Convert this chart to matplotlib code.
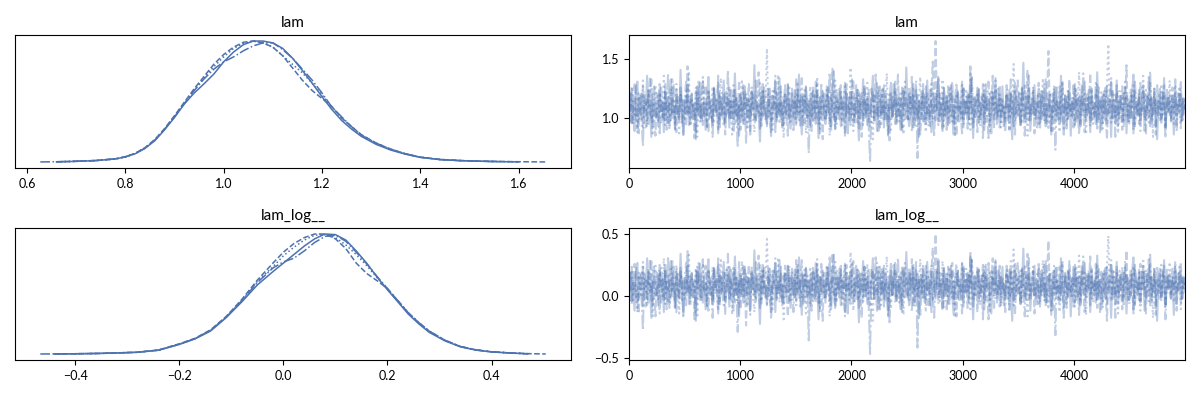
import numpy as np
import matplotlib
matplotlib.use("Agg")
import matplotlib.pyplot as plt

plt.rcParams['font.family'] = ['Lato', 'DejaVu Sans']

nan = np.nan
COLOR = "#4c72b0"
LINESTYLES = ["-", "--", "-.", ":"]

var_names = ["lam", "lam_log__"]

# ---- KDE of lam per chain (density) ----
lam_grid = [0.627, 0.66, 0.70, 0.74, 0.78, 0.80, 0.82, 0.84, 0.86, 0.88, 0.90, 0.92, 0.94,
            0.96, 0.98, 1.00, 1.02, 1.04, 1.06, 1.08, 1.10, 1.12, 1.14, 1.16, 1.18, 1.20,
            1.22, 1.24, 1.26, 1.28, 1.31, 1.34, 1.37, 1.40, 1.44, 1.48, 1.52, 1.56, 1.60, 1.655]
lam_kde_c0 = [nan, 0.002, 0.006, 0.012, 0.026, 0.042, 0.068, 0.112, 0.175, 0.265, 0.365, 0.475, 0.565,
              0.64, 0.72, 0.82, 0.90, 0.96, 0.99, 0.99, 0.975, 0.93, 0.85, 0.75, 0.645, 0.535, 0.43,
              0.34, 0.27, 0.21, 0.145, 0.098, 0.064, 0.038, 0.02, 0.012, 0.007, 0.004, 0.001, nan]
lam_kde_c1 = [nan, 0.002, 0.006, 0.013, 0.027, 0.044, 0.072, 0.118, 0.185, 0.275, 0.38, 0.49, 0.60,
              0.70, 0.80, 0.88, 0.94, 0.98, 0.99, 0.975, 0.94, 0.87, 0.77, 0.67, 0.585, 0.52, 0.455,
              0.36, 0.29, 0.225, 0.155, 0.105, 0.067, 0.04, 0.022, 0.013, 0.008, 0.005, 0.003, 0.001]
lam_kde_c2 = [0.001, 0.003, 0.007, 0.013, 0.026, 0.043, 0.07, 0.115, 0.18, 0.27, 0.37, 0.48, 0.585,
              0.68, 0.76, 0.82, 0.86, 0.91, 0.95, 0.975, 0.975, 0.92, 0.85, 0.76, 0.67, 0.565, 0.45,
              0.37, 0.29, 0.22, 0.155, 0.105, 0.068, 0.04, 0.021, 0.012, 0.007, 0.003, nan, nan]
lam_kde_c3 = [nan, 0.002, 0.006, 0.012, 0.025, 0.042, 0.069, 0.114, 0.18, 0.27, 0.375, 0.485, 0.59,
              0.69, 0.78, 0.86, 0.93, 0.97, 0.99, 0.975, 0.94, 0.87, 0.80, 0.73, 0.645, 0.55, 0.45,
              0.36, 0.29, 0.22, 0.155, 0.105, 0.068, 0.04, 0.021, 0.012, 0.007, 0.004, 0.002, nan]

# ---- KDE of lam_log__ per chain ----
log_grid = [-0.467, -0.44, -0.40, -0.36, -0.32, -0.28, -0.24, -0.20, -0.17, -0.14, -0.11, -0.08,
            -0.05, -0.02, 0.00, 0.02, 0.04, 0.06, 0.08, 0.10, 0.12, 0.14, 0.16, 0.18, 0.20, 0.22,
            0.24, 0.26, 0.28, 0.31, 0.34, 0.37, 0.40, 0.44, 0.47, 0.504]
log_kde_c0 = [nan, 0.001, 0.003, 0.005, 0.009, 0.015, 0.032, 0.08, 0.125, 0.19, 0.30, 0.43, 0.57, 0.68,
              0.75, 0.82, 0.89, 0.95, 0.99, 0.985, 0.94, 0.85, 0.75, 0.635, 0.53, 0.43, 0.33, 0.25,
              0.18, 0.11, 0.06, 0.033, 0.018, 0.008, 0.003, nan]
log_kde_c1 = [nan, 0.001, 0.003, 0.005, 0.01, 0.016, 0.034, 0.085, 0.13, 0.20, 0.31, 0.45, 0.61, 0.75,
              0.84, 0.91, 0.96, 0.99, 0.99, 0.95, 0.87, 0.75, 0.665, 0.605, 0.54, 0.44, 0.34, 0.26,
              0.19, 0.115, 0.063, 0.035, 0.019, 0.009, 0.004, 0.001]
log_kde_c2 = [0.001, 0.002, 0.003, 0.006, 0.01, 0.016, 0.033, 0.082, 0.128, 0.195, 0.305, 0.44, 0.59, 0.71,
              0.76, 0.79, 0.85, 0.92, 0.97, 0.98, 0.93, 0.84, 0.745, 0.64, 0.54, 0.44, 0.34, 0.26,
              0.19, 0.115, 0.063, 0.035, 0.019, 0.008, 0.002, nan]
log_kde_c3 = [nan, 0.001, 0.003, 0.005, 0.009, 0.015, 0.032, 0.08, 0.126, 0.195, 0.305, 0.44, 0.60, 0.72,
              0.81, 0.88, 0.94, 0.98, 0.985, 0.96, 0.90, 0.82, 0.73, 0.63, 0.535, 0.44, 0.34, 0.26,
              0.19, 0.115, 0.063, 0.035, 0.019, 0.009, 0.003, nan]

# ---- Trace of lam per chain (thinned) ----
lam_trace_c0 = [
    1.12, 0.97, 1.25, 1.03, 0.89, 1.18, 1.31, 0.99, 1.08, 1.21,
    0.92, 1.15, 1.04, 1.36, 0.95, 1.11, 0.84, 1.19, 1.27, 1.01,
    1.09, 0.93, 1.23, 1.06, 1.14, 0.88, 1.29, 1.02, 0.96, 1.17,
    1.33, 1.00, 1.10, 0.91, 1.24, 1.05, 0.98, 1.41, 1.07, 0.86,
    1.16, 1.03, 1.28, 0.94, 1.12, 1.20, 0.99, 1.08, 0.82, 1.22,
    1.04, 1.30, 0.97, 1.13, 1.06, 0.90, 1.19, 1.35, 1.01, 1.10,
    0.94, 1.26, 1.08, 1.15, 0.87, 1.21, 1.02, 1.11, 1.32, 0.96,
    1.05, 1.18, 0.92, 1.24, 1.09, 0.99, 1.38, 1.03, 1.14, 0.85,
    1.20, 1.07, 0.95, 1.27, 1.12, 1.00, 1.16, 0.89, 1.23, 1.06,
    1.45, 0.98, 1.11, 1.04, 0.80, 1.19, 1.29, 1.02, 1.09, 0.93,
    1.17, 1.25, 0.97, 1.08, 1.13, 0.88, 1.22, 1.05, 1.34, 0.99,
    1.10, 0.94, 1.20, 1.03, 1.28, 1.07, 0.91, 1.15, 1.01, 1.24,
    0.96, 1.12, 1.37, 1.05, 0.86, 1.18, 1.09, 1.26, 1.00, 1.14,
    0.92, 1.21, 1.06, 0.98, 1.31, 1.11, 0.83, 1.17, 1.04, 1.23,
    1.08, 0.95, 1.27, 1.13, 1.02, 0.90, 1.19, 1.40, 0.97, 1.10,
    1.05, 1.25, 0.93, 1.16, 1.07, 1.30, 0.99, 0.87, 1.14, 1.22,
    1.03, 1.11, 0.96, 1.28, 1.09, 0.81, 1.20, 1.06, 1.33, 1.00,
    1.15, 0.94, 1.24, 1.04, 1.12, 1.36, 0.98, 1.08, 0.89, 1.19,
    1.27, 1.02, 1.13, 0.92, 1.21, 1.07, 0.85, 1.16, 1.30, 1.01,
    1.09, 1.23, 0.97, 1.14, 1.05, 0.90, 1.26, 1.11, 0.99, 1.43,
    1.06, 0.93, 1.18, 1.03, 1.29, 0.96, 1.10, 1.20, 0.84, 1.15,
    1.01, 1.24, 1.08, 0.95, 1.32, 1.04, 1.13, 0.88, 1.22, 1.07,
    0.98, 1.17, 1.35, 1.02, 1.11, 0.91, 1.25, 1.06, 1.19, 0.94,
    1.12, 1.28, 1.00, 0.86, 1.16, 1.09, 1.23, 0.97, 1.05, 1.31,
    0.92, 1.14, 1.04, 1.21, 0.99, 1.38, 1.08, 0.83, 1.18, 1.10,
    1.26, 0.96, 1.13, 1.03, 1.20, 0.90, 1.29, 1.07, 1.15, 1.00,
    0.87, 1.22, 1.11, 1.34, 0.95, 1.06, 1.17, 1.02, 1.27, 0.93,
    1.09, 1.19, 0.98, 1.24, 1.05, 0.82, 1.14, 1.30, 1.01, 1.12,
    1.21, 0.94, 1.08, 1.47, 1.03, 0.97, 1.16, 1.25, 0.89, 1.10,
    1.04, 1.28, 0.99, 1.13, 1.07, 0.92, 1.23, 1.18, 1.00, 1.33,
    0.95, 1.11, 1.20, 0.86, 1.15, 1.06, 1.26, 1.02, 1.09, 0.96,
    1.36, 1.04, 0.91, 1.19, 1.12, 1.00, 1.24, 0.85, 1.14, 1.08,
    1.29, 0.97, 1.17, 1.03, 0.93, 1.22, 1.10, 1.31, 0.99, 1.05,
    1.18, 0.88, 1.25, 1.07, 1.13, 0.95, 1.39, 1.01, 1.11, 0.90,
    1.20, 1.06, 0.98, 1.27, 1.04, 1.15, 0.84, 1.23, 1.09, 1.02,
    1.32, 0.94, 1.12, 1.19, 0.97, 1.08, 1.26, 0.87, 1.16, 1.05,
    1.00, 1.21, 1.37, 0.93, 1.10, 1.03, 1.24, 0.96, 1.14, 1.28,
    0.89, 1.07, 1.18, 1.01, 1.30, 0.95, 1.11, 1.22, 1.04, 0.82,
    1.15, 1.25, 0.99, 1.09, 1.34, 0.92, 1.17, 1.06, 1.20, 0.98,
    1.13, 0.86, 1.27, 1.02, 1.08, 1.21, 0.95, 1.16, 1.03, 1.11]
lam_trace_c1 = [
    1.04, 1.22, 0.94, 1.13, 1.30, 0.99, 1.08, 0.87, 1.19, 1.06,
    1.27, 1.01, 0.92, 1.16, 1.10, 1.35, 0.97, 1.12, 1.03, 0.85,
    1.21, 1.07, 1.29, 0.95, 1.14, 1.00, 1.24, 0.90, 1.18, 1.09,
    0.98, 1.33, 1.05, 1.11, 0.88, 1.20, 1.02, 1.26, 0.96, 1.15,
    1.08, 0.93, 1.44, 1.04, 1.17, 0.99, 1.12, 0.83, 1.23, 1.06,
    1.31, 1.00, 1.10, 0.94, 1.19, 1.28, 1.03, 0.89, 1.14, 1.07,
    0.97, 1.25, 1.11, 1.02, 1.36, 0.92, 1.16, 1.05, 1.21, 0.86,
    1.13, 1.04, 1.27, 0.98, 1.09, 1.22, 0.95, 1.18, 1.01, 1.32,
    0.90, 1.15, 1.06, 1.24, 0.79, 1.12, 1.29, 1.00, 1.08, 1.20,
    1.03, 0.96, 1.17, 1.39, 1.05, 0.93, 1.23, 1.10, 0.99, 1.14,
    1.26, 1.02, 0.88, 1.19, 1.07, 1.31, 0.97, 1.13, 1.04, 1.22,
    0.94, 1.11, 1.28, 1.00, 0.85, 1.16, 1.06, 1.25, 1.09, 0.98,
    1.34, 1.03, 1.15, 0.92, 1.20, 1.08, 0.96, 1.27, 1.01, 1.12,
    1.05, 0.89, 1.23, 1.14, 1.00, 1.30, 0.95, 1.18, 1.07, 0.82,
    1.21, 1.10, 1.02, 1.26, 0.97, 1.13, 1.42, 1.04, 0.91, 1.17,
    1.08, 0.99, 1.24, 1.06, 1.15, 0.87, 1.29, 1.03, 1.11, 0.94,
    1.19, 1.33, 1.01, 1.09, 0.96, 1.22, 1.05, 0.84, 1.16, 1.27,
    1.00, 1.12, 1.07, 0.93, 1.25, 1.14, 0.98, 1.37, 1.04, 1.10,
    0.90, 1.20, 1.03, 1.28, 0.97, 1.15, 1.08, 0.81, 1.23, 1.01,
    1.13, 1.31, 0.95, 1.06, 1.18, 1.02, 0.88, 1.26, 1.09, 1.16,
    0.99, 1.21, 1.05, 1.35, 0.92, 1.11, 1.24, 1.00, 1.14, 0.86,
    1.07, 1.29, 0.96, 1.18, 1.03, 1.10, 0.93, 1.22, 1.48, 1.04,
    1.655, 1.08, 0.97, 1.21, 1.12, 0.89, 1.26, 1.02, 1.15, 1.06,
    0.94, 1.19, 1.31, 1.00, 1.10, 0.85, 1.23, 1.07, 1.13, 0.98,
    1.27, 1.03, 1.16, 0.91, 1.20, 1.09, 1.34, 0.96, 1.05, 1.14,
    0.88, 1.24, 1.01, 1.11, 1.29, 0.95, 1.17, 1.04, 0.83, 1.21,
    1.08, 1.36, 0.99, 1.13, 1.02, 1.25, 0.92, 1.18, 1.06, 1.10,
    0.97, 1.28, 1.12, 0.90, 1.22, 1.03, 1.15, 0.86, 1.19, 1.32,
    1.05, 0.94, 1.26, 1.09, 1.00, 1.17, 1.41, 0.98, 1.11, 1.04,
    1.23, 0.87, 1.14, 1.07, 1.30, 0.96, 1.20, 1.02, 1.12, 0.93,
    1.18, 1.57, 1.01, 1.09, 0.89, 1.24, 1.06, 1.15, 0.97, 1.27,
    1.03, 1.13, 0.84, 1.21, 1.10, 0.99, 1.33, 1.05, 1.16, 0.92,
    1.25, 1.08, 1.00, 1.19, 0.95, 1.29, 1.04, 0.88, 1.14, 1.22,
    1.07, 1.38, 0.98, 1.11, 1.02, 1.20, 0.91, 1.26, 1.09, 1.15,
    0.96, 1.23, 1.05, 0.82, 1.17, 1.12, 1.31, 1.00, 1.08, 0.94,
    1.28, 1.03, 1.16, 1.06, 0.90, 1.21, 1.10, 1.45, 0.97, 1.13,
    1.01, 1.19, 0.87, 1.24, 1.08, 1.14, 0.95, 1.30, 1.04, 1.11,
    1.22, 0.99, 1.07, 1.35, 0.93, 1.17, 1.02, 1.25, 0.86, 1.12,
    1.06, 1.20, 1.00, 1.15, 1.28, 0.92, 1.09, 1.18, 1.03, 0.97,
    1.26, 1.05, 1.13, 0.89, 1.21, 1.10, 1.32, 0.98, 1.16, 1.07]
lam_trace_c2 = [
    1.09, 1.23, 0.96, 1.14, 1.02, 1.28, 0.91, 1.17, 1.06, 1.00,
    0.76, 1.20, 1.11, 0.98, 1.25, 1.04, 1.33, 0.93, 1.15, 1.08,
    1.01, 1.19, 0.87, 1.26, 1.12, 0.97, 1.22, 1.05, 1.38, 0.94,
    1.13, 1.03, 1.29, 0.90, 1.18, 1.07, 0.99, 1.24, 1.10, 0.85,
    1.16, 1.31, 1.02, 1.09, 0.95, 1.21, 1.06, 1.14, 0.88, 1.27,
    1.04, 0.97, 1.19, 1.35, 1.00, 1.12, 0.92, 1.23, 1.08, 1.16,
    0.84, 1.25, 1.05, 1.11, 1.30, 0.96, 1.18, 1.02, 0.93, 1.21,
    1.10, 1.41, 0.98, 1.15, 1.03, 0.89, 1.24, 1.07, 0.75, 1.13,
    1.20, 1.01, 1.28, 0.95, 1.09, 1.17, 1.04, 0.86, 1.22, 1.12,
    0.99, 1.32, 1.06, 1.14, 0.91, 1.19, 1.00, 1.26, 1.08, 0.94,
    1.16, 1.05, 0.83, 1.23, 1.11, 1.36, 0.97, 1.10, 1.02, 1.27,
    0.92, 1.18, 1.07, 1.00, 1.29, 0.96, 1.13, 1.21, 0.88, 1.15,
    1.04, 1.24, 0.98, 1.12, 1.34, 0.94, 1.19, 1.06, 1.09, 0.70,
    1.17, 1.01, 1.26, 1.08, 0.95, 1.22, 1.13, 0.87, 1.30, 1.03,
    1.11, 0.99, 1.20, 1.05, 1.39, 0.93, 1.16, 1.07, 0.90, 1.25,
    1.02, 1.14, 1.28, 0.97, 1.10, 0.85, 1.21, 1.06, 1.18, 1.00,
    1.33, 0.96, 1.12, 1.04, 1.24, 0.91, 1.15, 1.09, 0.98, 1.27,
    1.05, 1.19, 0.94, 0.627, 1.13, 1.22, 1.01, 1.08, 1.31, 0.89,
    1.16, 1.03, 1.25, 0.97, 1.11, 1.06, 0.86, 1.20, 1.14, 1.00,
    1.29, 0.95, 1.08, 1.37, 1.02, 1.17, 0.92, 1.23, 1.10, 1.04,
    0.99, 1.26, 1.12, 0.88, 1.19, 1.05, 1.32, 0.66, 1.15, 1.07,
    1.21, 0.97, 1.09, 1.28, 1.01, 0.93, 1.24, 1.13, 1.03, 0.84,
    1.18, 1.06, 1.35, 0.96, 1.11, 1.20, 1.00, 1.14, 0.90, 1.27,
    1.08, 1.02, 1.22, 0.94, 1.16, 1.30, 0.98, 1.10, 1.05, 0.87,
    1.25, 1.12, 1.03, 1.19, 0.95, 1.44, 1.07, 0.92, 1.17, 1.01,
    1.13, 1.26, 0.99, 1.09, 0.83, 1.21, 1.06, 1.15, 1.31, 0.97,
    1.04, 1.18, 0.91, 1.24, 1.10, 1.02, 1.28, 0.95, 1.12, 1.08,
    0.88, 1.20, 1.14, 1.00, 1.33, 1.05, 0.93, 1.23, 1.16, 1.03,
    1.09, 0.96, 1.27, 1.11, 0.85, 1.19, 1.04, 1.36, 0.98, 1.13,
    1.22, 1.01, 1.07, 0.92, 1.25, 1.15, 0.99, 1.10, 1.29, 0.94,
    1.06, 1.18, 1.02, 0.89, 1.21, 1.12, 0.73, 1.26, 1.05, 1.14,
    0.97, 1.32, 1.08, 1.17, 0.91, 1.23, 1.03, 1.11, 1.00, 1.28,
    0.95, 1.16, 1.06, 0.86, 1.20, 1.09, 1.38, 0.99, 1.13, 1.04,
    1.24, 0.93, 1.19, 1.07, 1.01, 1.30, 0.96, 1.15, 0.88, 1.22,
    1.10, 1.02, 1.26, 0.94, 1.12, 1.05, 1.34, 0.98, 1.17, 0.84,
    1.21, 1.08, 1.00, 1.14, 1.27, 0.92, 1.11, 1.19, 1.03, 0.97,
    1.25, 1.06, 0.90, 1.31, 1.13, 1.01, 1.18, 0.95, 1.09, 1.23,
    1.04, 0.87, 1.20, 1.12, 1.40, 0.99, 1.07, 1.16, 0.93, 1.28,
    1.02, 1.15, 0.96, 1.22, 1.10, 0.83, 1.26, 1.05, 1.14, 1.00,
    1.19, 1.08, 1.33, 0.94, 1.11, 1.03, 1.24, 0.98, 1.17, 1.06]
lam_trace_c3 = [
    1.01, 1.16, 1.27, 0.95, 1.10, 1.04, 0.88, 1.21, 1.13, 0.99,
    1.32, 1.06, 1.15, 0.92, 1.24, 1.02, 1.09, 0.85, 1.19, 1.28,
    1.05, 0.97, 1.22, 1.11, 1.00, 1.36, 0.94, 1.14, 1.07, 0.90,
    1.25, 1.03, 1.17, 0.96, 1.29, 1.08, 0.87, 1.20, 1.12, 1.01,
    0.98, 1.23, 1.05, 1.40, 0.93, 1.15, 1.10, 1.02, 1.26, 0.84,
    1.18, 1.07, 0.99, 1.31, 1.04, 1.13, 0.91, 1.22, 1.09, 1.00,
    1.27, 0.95, 1.16, 1.06, 0.89, 1.20, 1.34, 1.03, 1.11, 0.97,
    1.24, 1.08, 1.01, 1.14, 0.86, 1.28, 1.05, 1.18, 0.94, 1.12,
    1.02, 1.33, 0.98, 1.09, 1.21, 0.92, 1.15, 1.06, 1.26, 1.00,
    0.88, 1.17, 1.10, 1.03, 1.30, 0.96, 1.23, 1.07, 1.13, 1.59,
    0.99, 1.19, 1.04, 0.90, 1.25, 1.11, 1.00, 1.37, 0.95, 1.14,
    1.08, 0.83, 1.22, 1.16, 1.02, 1.28, 0.97, 1.12, 1.06, 1.20,
    0.93, 1.31, 1.05, 1.15, 0.99, 1.09, 1.24, 0.87, 1.18, 1.03,
    1.27, 1.10, 0.96, 1.21, 1.07, 1.35, 1.01, 0.91, 1.14, 1.19,
    1.04, 0.98, 1.26, 1.12, 0.85, 1.23, 1.08, 1.00, 1.32, 0.95,
    1.16, 1.06, 1.20, 0.92, 1.13, 1.29, 1.02, 1.10, 0.97, 1.43,
    1.05, 0.89, 1.18, 1.11, 1.25, 0.99, 1.07, 1.22, 0.94, 1.15,
    1.03, 1.30, 0.96, 1.12, 1.08, 0.82, 1.21, 1.17, 1.01, 1.27,
    1.09, 0.93, 1.24, 1.05, 1.14, 1.38, 0.98, 1.11, 0.90, 1.19,
    1.06, 1.28, 1.00, 1.16, 0.95, 1.23, 1.04, 0.86, 1.31, 1.10,
    1.13, 0.97, 1.20, 1.07, 1.26, 0.92, 1.15, 1.02, 1.09, 1.35,
    0.99, 1.18, 1.05, 0.88, 1.22, 1.12, 1.01, 1.29, 0.96, 1.14,
    1.08, 1.24, 0.94, 1.17, 1.03, 1.33, 0.91, 1.10, 1.20, 1.00,
    1.27, 1.06, 0.97, 1.13, 0.84, 1.21, 1.09, 1.16, 1.02, 1.30,
    0.95, 1.11, 1.25, 1.04, 1.18, 0.90, 1.36, 1.07, 0.99, 1.14,
    1.22, 1.01, 0.93, 1.19, 1.08, 1.28, 0.96, 1.12, 1.05, 0.87,
    1.24, 1.15, 1.03, 1.32, 0.98, 1.10, 1.20, 0.92, 1.17, 1.06,
    1.00, 1.26, 1.13, 0.89, 1.21, 1.04, 1.46, 0.97, 1.09, 1.15,
    1.02, 1.23, 0.95, 1.11, 1.29, 1.07, 0.85, 1.18, 1.01, 1.14,
    1.27, 0.99, 1.08, 1.20, 0.93, 1.16, 1.04, 1.34, 0.96, 1.12,
    1.05, 0.90, 1.22, 1.10, 1.01, 1.28, 0.98, 1.15, 1.07, 0.88,
    1.19, 1.31, 1.03, 1.13, 0.94, 1.24, 1.09, 1.00, 1.17, 1.06,
    0.92, 1.26, 1.11, 1.39, 0.97, 1.14, 1.02, 1.21, 0.86, 1.18,
    1.08, 1.00, 1.25, 0.95, 1.12, 1.05, 1.30, 0.99, 1.16, 1.03,
    0.91, 1.20, 1.10, 1.27, 1.63, 1.04, 0.96, 1.14, 1.22, 1.01,
    1.09, 0.87, 1.23, 1.06, 1.17, 0.98, 1.33, 1.02, 1.11, 0.94,
    1.19, 1.07, 1.28, 0.93, 1.15, 1.04, 1.21, 0.89, 1.13, 1.36,
    1.00, 1.24, 1.08, 0.96, 1.18, 1.12, 0.84, 1.26, 1.05, 1.16,
    1.10, 0.97, 1.29, 1.03, 1.20, 0.92, 1.14, 1.07, 1.32, 1.01,
    1.17, 0.95, 1.22, 1.09, 1.04, 1.27, 0.90, 1.15, 1.06, 1.11]

n_draws = 5000
lam_kx_ticks = [0.6, 0.8, 1.0, 1.2, 1.4, 1.6]
log_kx_ticks = [-0.4, -0.2, 0.0, 0.2, 0.4]
trace_x_ticks = [0, 1000, 2000, 3000, 4000]
lam_y_ticks = [1.0, 1.5]
log_y_ticks = [-0.5, 0.0, 0.5]

lam_traces = [lam_trace_c0, lam_trace_c1, lam_trace_c2, lam_trace_c3]
# lam_log__ is the log-transformed (unconstrained) version of lam
log_traces = [np.log(np.array(t)) for t in lam_traces]
lam_kdes = [lam_kde_c0, lam_kde_c1, lam_kde_c2, lam_kde_c3]
log_kdes = [log_kde_c0, log_kde_c1, log_kde_c2, log_kde_c3]

fig = plt.figure(figsize=(12, 4), dpi=100)
W, H = 1200, 400


def add_ax(x0, y0, x1, y1):
    return fig.add_axes([x0 / W, 1 - y1 / H, (x1 - x0) / W, (y1 - y0) / H])


axes = [
    [add_ax(15, 35, 571, 168), add_ax(629, 35, 1185, 168)],
    [add_ax(15, 228, 571, 360), add_ax(629, 228, 1185, 360)],
]

rows = [
    (var_names[0], lam_grid, lam_kdes, lam_traces, lam_kx_ticks, lam_y_ticks),
    (var_names[1], log_grid, log_kdes, log_traces, log_kx_ticks, log_y_ticks),
]

for (name, grid, kdes, traces, kxt, yt), (axk, axt) in zip(rows, axes):
    for kde, ls in zip(kdes, LINESTYLES):
        axk.plot(grid, kde, color=COLOR, ls=ls, lw=1.1)
    axk.set_yticks([])
    axk.set_xticks(kxt)
    axk.set_title(name, fontsize=11, pad=6)

    for tr, ls in zip(traces, LINESTYLES):
        xs = np.linspace(0, n_draws - 1, len(tr))
        axt.plot(xs, tr, color=COLOR, ls=ls, lw=1.5, alpha=0.35)
    axt.set_xlim(0, n_draws - 1)
    axt.set_xticks(trace_x_ticks)
    axt.set_yticks(yt)
    axt.set_title(name, fontsize=11, pad=6)

for row in axes:
    for ax in row:
        ax.tick_params(labelsize=9, length=3.5, width=0.8)
        for sp in ax.spines.values():
            sp.set_linewidth(0.8)
            sp.set_color("black")

fig.savefig("out.png", dpi=100)
